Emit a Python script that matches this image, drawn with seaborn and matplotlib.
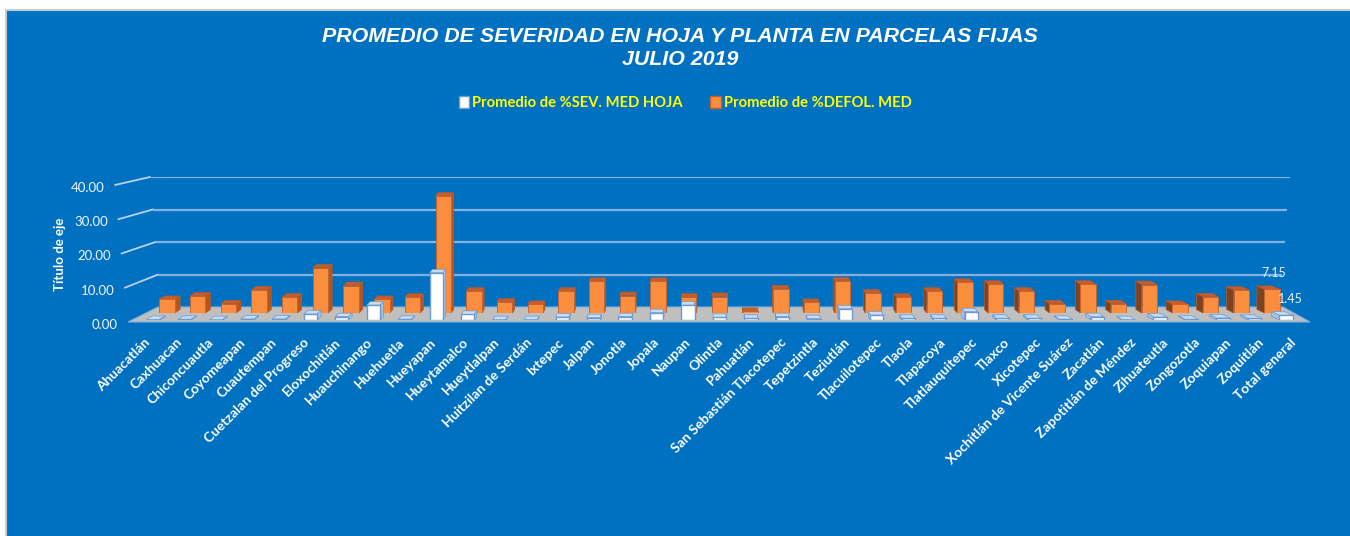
import matplotlib
matplotlib.use("Agg")
import matplotlib.pyplot as plt
import seaborn as sns
from matplotlib.patches import Patch, Polygon, Rectangle
from matplotlib.transforms import IdentityTransform

W, H = 1350, 536

municipios = ["Ahuacatlán", "Caxhuacan", "Chiconcuautla", "Coyomeapan", "Cuautempan",
              "Cuetzalan del Progreso", "Eloxochitlán", "Huauchinango", "Huehuetla", "Hueyapan",
              "Hueytamalco", "Hueytlalpan", "Huitzilan de Serdán", "Ixtepec", "Jalpan", "Jonotla",
              "Jopala", "Naupan", "Olintla", "Pahuatlán", "San Sebastián Tlacotepec", "Tepetzintla",
              "Teziutlán", "Tlacuilotepec", "Tlaola", "Tlapacoya", "Tlatlauquitepec", "Tlaxco",
              "Xicotepec", "Xochitlán de Vicente Suárez", "Zacatlán", "Zapotitlán de Méndez",
              "Zihuateutla", "Zongozotla", "Zoquiapan", "Zoquitlán", "Total general"]
sev_hoja = [0.15, 0.2, 0.1, 0.3, 0.3, 1.8, 1.0, 4.5, 0.2, 14.3, 1.7, 0.1, 0.1, 0.9, 0.7, 1.0,
            2.2, 4.5, 0.8, 0.5, 1.0, 0.4, 3.4, 1.5, 0.5, 0.5, 2.5, 0.5, 0.5, 0.2, 1.0, 0.1,
            0.9, 0.2, 0.6, 0.5, 1.45]
defol = [4.1, 5.1, 2.8, 7.0, 4.8, 13.7, 8.3, 4.1, 4.8, 35.4, 6.6, 3.3, 2.6, 6.6, 9.6, 5.3,
         9.6, 4.8, 5.0, 0.5, 7.3, 3.2, 9.7, 6.0, 4.8, 6.6, 9.3, 8.7, 6.6, 2.8, 8.7, 2.8,
         8.6, 2.6, 4.9, 6.9, 7.15]
y_ticks = [0, 10, 20, 30, 40]

BLUE = "#0070C0"
GRID = "#7FB2DE"
ORANGE = "#FB8D3F"
EDGE_WHITE = "#6C9AD2"

sns.set_style("white")
plt.rcParams["font.family"] = ["Lato", "DejaVu Sans"]

fig = plt.figure(figsize=(W / 100, H / 100), dpi=100, facecolor="white")
fig.add_artist(Rectangle((6 / W, -0.1), 1.1, 1.1 - 10 / H, transform=fig.transFigure, facecolor=BLUE,
                         edgecolor="#C4CDD6", linewidth=1.5, zorder=-5))


def axes_px(left, right, base_y, px_per_unit, zorder):
    ax = fig.add_axes([left / W, 1 - base_y / H, (right - left) / W, 40 * px_per_unit / H], zorder=zorder)
    ax.set_facecolor("none")
    return ax


def add_depth(ax, lift, cap, side_right, side_left, edge):
    # fake the excel 3d look: top and side faces leaning to the middle of the chart
    for bar in list(ax.patches):
        x0, y0 = ax.transData.transform((bar.get_x(), 0))
        x1, y1 = ax.transData.transform((bar.get_x() + bar.get_width(), bar.get_height()))
        xc = (x0 + x1) / 2
        dx = (740 - xc) * (0.0095 if xc < 740 else 0.014)
        xs = x1 if dx > 0 else x0
        side = side_right if dx > 0 else side_left
        faces = [([(x0, y1), (x1, y1), (x1 + dx, y1 + lift), (x0 + dx, y1 + lift)], cap),
                 ([(xs, y0), (xs, y1), (xs + dx, y1 + lift), (xs + dx, y0 + lift)], side)]
        for pts, color in faces:
            ax.add_patch(Polygon(pts, closed=True, facecolor=color, edgecolor=edge, linewidth=0.5,
                                 transform=IdentityTransform(), clip_on=False, zorder=0.5))


# floor, slanted ticks and value labels, in pixels of the picture
bg = fig.add_axes([0, 0, 1, 1], zorder=0)
bg.set_xlim(0, W)
bg.set_ylim(H, 0)
bg.axis("off")
bg.add_patch(Polygon([(128, 322), (158, 307), (1283, 307), (1310, 322)], closed=True,
                     facecolor="#BFBFBF", edgecolor=GRID, linewidth=0.8))
for v in y_ticks:
    front_x, front_y = 128 - v * 0.325, 322 - v * 3.425
    if v > 0:
        bg.plot([front_x, 161 - v * 0.275], [front_y, 307 - v * 3.25], color="#B8D4EC", lw=1.3)
    bg.text(front_x - 10, front_y + 3, f"{v:.2f}", color="#F2F7FC", fontsize=9.5,
            ha="right", va="center")
bg.text(60, 254, "Título de eje", color="white", fontsize=9.5, fontweight="bold",
        rotation=90, ha="center", va="center")

# back wall with the gridlines
wall = axes_px(100, 1300, 307, 3.25, 1)
wall.set_ylim(0, 40)
wall.axis("off")
for v in y_ticks[1:]:
    wall.hlines(v, (161 - v * 0.275 - 100) / 1200, (1279 + v * 0.275 - 100) / 1200,
                transform=wall.get_yaxis_transform(), color=GRID, lw=1.6)

# orange row sits behind the white one
ax_back = axes_px(151.65, 1287.35, 313, 3.3, 2)
sns.barplot(x=municipios, y=defol, ax=ax_back, color=ORANGE, saturation=1, width=0.5,
            edgecolor="#C8602C", linewidth=0.6)
ax_back.set_xlim(-0.5, 36.5)
ax_back.set_ylim(0, 40)
ax_back.axis("off")
add_depth(ax_back, 3.5, "#C55D2D", "#B5561F", "#7A4420", "#B85A2C")

ax_front = axes_px(137.3, 1301.7, 320, 3.3, 3)
sns.barplot(x=municipios, y=sev_hoja, ax=ax_front, color="white", saturation=1, width=0.42,
            edgecolor=EDGE_WHITE, linewidth=1.0)
ax_front.set_xlim(-0.5, 36.5)
ax_front.set_ylim(0, 40)
ax_front.axis("off")
add_depth(ax_front, 3.5, "#C9DCF0", "#A6C1E2", "#A6C1E2", EDGE_WHITE)

ax_back.annotate(f"{defol[-1]:.2f}", (36, defol[-1]), xytext=(1, 7.5), textcoords="offset points",
                 color="#E8F1FA", fontsize=9, ha="center", va="bottom")
ax_front.annotate(f"{sev_hoja[-1]:.2f}", (36, sev_hoja[-1]), xytext=(3, 7), textcoords="offset points",
                  color="#E8F1FA", fontsize=9, ha="center", va="bottom")

# category labels run on their own spacing
ax_lab = fig.add_axes([(143.5 - 15.9) / W, 1 - 336 / H, 37 * 31.83 / W, 0.001], zorder=4)
ax_lab.set_facecolor("none")
ax_lab.set_xlim(-0.5, 36.5)
ax_lab.set_yticks([])
ax_lab.set_xticks(range(len(municipios)))
ax_lab.set_xticklabels(municipios, rotation=45, ha="right", va="top", rotation_mode="anchor",
                       color="white", fontsize=9.9, fontweight="bold")
ax_lab.tick_params(axis="x", length=0, pad=0)
sns.despine(ax=ax_lab, left=True, bottom=True)

fig.text(680 / W, 1 - 48 / H, "PROMEDIO DE SEVERIDAD EN HOJA Y PLANTA EN PARCELAS FIJAS\nJULIO 2019",
         color="white", fontsize=15.4, fontweight="bold", fontstyle="italic", family="Liberation Sans",
         ha="center", va="center", linespacing=1.22)

handles = [Patch(facecolor="white", edgecolor=EDGE_WHITE, label="Promedio de %SEV. MED HOJA"),
           Patch(facecolor=ORANGE, edgecolor="#C8602C", label="Promedio de %DEFOL. MED")]
fig.legend(handles=handles, loc="center", bbox_to_anchor=(685 / W, 1 - 103 / H), ncol=2, frameon=False,
           labelcolor="#FFFF00", prop={"family": "Lato", "weight": "bold", "size": 10.6},
           handlelength=0.7, handleheight=0.8, handletextpad=0.2, columnspacing=1.9)

fig.savefig("out.png")
